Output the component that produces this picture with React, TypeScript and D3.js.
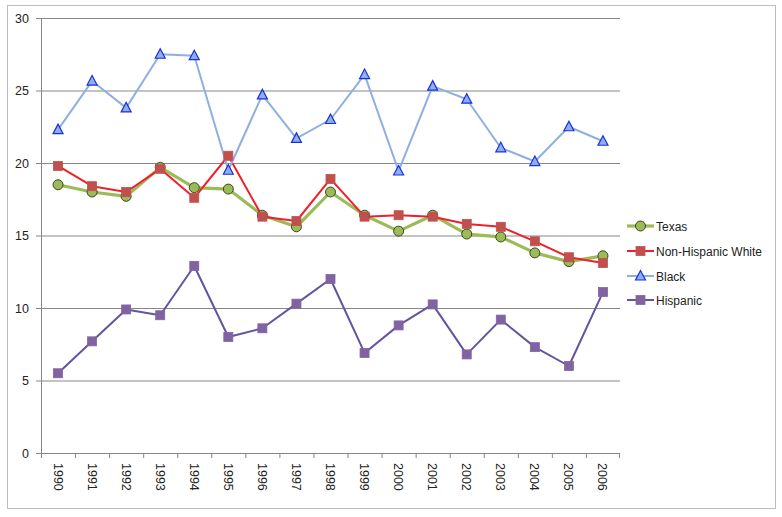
import React from "react";
import * as d3 from "d3";

const years = ["1990","1991","1992","1993","1994","1995","1996","1997","1998","1999","2000","2001","2002","2003","2004","2005","2006"];
const texas = [18.5,18.0,17.7,19.7,18.3,18.2,16.4,15.6,18.0,16.4,15.3,16.4,15.1,14.9,13.8,13.2,13.6];
const nhWhite = [19.8,18.4,18.0,19.6,17.6,20.5,16.3,16.0,18.9,16.3,16.4,16.3,15.8,15.6,14.6,13.5,13.1];
const black = [22.3,25.65,23.8,27.5,27.4,19.5,24.7,21.7,23.0,26.1,19.45,25.3,24.4,21.05,20.1,22.5,21.5];
const hispanic = [5.5,7.7,9.9,9.5,12.9,8.0,8.6,10.3,12.0,6.9,8.8,10.25,6.8,9.2,7.3,6.0,11.1];
const yTicks = [0,5,10,15,20,25,30];

const seriesNames = ["Texas","Non-Hispanic White","Black","Hispanic"];
const seriesData = [texas, nhWhite, black, hispanic];
const lineColors = ["#9BBB59","#F0202A","#8DB0E0","#6454A0"];
const lineWidths = [3.2,2,2,2];
const markerFill = ["#9BBB59","#C0504D","#8DB0E8","#8064A2"];
const markerStroke = ["#2F3A10","#C0504D","#1A2EE0","#8064A2"];
const markerType = ["circle","square","triangle","square"];

function Marker({ type, x, y, fill, stroke }: any) {
  if (type === "circle") return <circle cx={x} cy={y} r={5} fill={fill} stroke={stroke} strokeWidth={0.9} />;
  if (type === "square") return <rect x={x - 4.5} y={y - 4.5} width={9} height={9} fill={fill} stroke={stroke} strokeWidth={0.8} />;
  const p = `${x},${y - 5.5} ${x + 5},${y + 4} ${x - 5},${y + 4}`;
  return <polygon points={p} fill={fill} stroke={stroke} strokeWidth={1.2} />;
}

export default function App() {
  const W = 782, H = 517;
  const left = 41, right = 620, top = 18, bottom = 453;
  const x = d3.scaleBand().domain(years).range([left, right]);
  const y = d3.scaleLinear().domain([0, 30]).range([bottom, top]);
  const cx = (i: number) => (x(years[i]) as number) + x.bandwidth() / 2;
  const line = d3.line<number>().x((_, i) => cx(i)).y((d) => y(d));
  const font = "'Liberation Sans', Arial, sans-serif";
  const legendY = [226, 251, 276, 300];

  return (
    <svg width={W} height={H} style={{ position: "absolute", left: 0, top: 0 }} fontFamily={font}>
      <rect x={0} y={0} width={W} height={H} fill="#fff" />
      <rect x={7.5} y={5.5} width={768} height={503} fill="#fff" stroke="#BDBDBD" strokeWidth={1} />
      {yTicks.map((t) => (
        <g key={t}>
          {t > 0 && <line x1={left} x2={right} y1={y(t) + 0.5} y2={y(t) + 0.5} stroke="#878787" strokeWidth={1} />}
          <line x1={left - 5} x2={left} y1={y(t) + 0.5} y2={y(t) + 0.5} stroke="#878787" strokeWidth={1} />
          <text x={29} y={y(t) + 4.5} textAnchor="end" fontSize={12.5} fill="#222">{t}</text>
        </g>
      ))}
      <line x1={left + 0.5} x2={left + 0.5} y1={top} y2={bottom} stroke="#878787" />
      <line x1={left} x2={right} y1={bottom + 0.5} y2={bottom + 0.5} stroke="#878787" />
      {years.map((yr, i) => (
        <line key={"t" + yr} x1={(x(yr) as number) + 0.5} x2={(x(yr) as number) + 0.5} y1={bottom} y2={bottom + 5} stroke="#878787" />
      ))}
      <line x1={right - 0.5} x2={right - 0.5} y1={bottom} y2={bottom + 5} stroke="#878787" />
      {years.map((yr, i) => (
        <text key={"l" + yr} transform={`translate(${cx(i) - 4.5},${bottom + 10}) rotate(90)`} fontSize={12.5} fill="#222">{yr}</text>
      ))}
      {seriesData.map((d, s) => (
        <path key={"p" + s} d={line(d) as string} fill="none" stroke={lineColors[s]} strokeWidth={lineWidths[s]} strokeLinejoin="round" />
      )).reverse().reverse()}
      {seriesData.map((d, s) => (
        <g key={"m" + s}>
          {d.map((v, i) => (
            <Marker key={i} type={markerType[s]} x={cx(i)} y={y(v)} fill={markerFill[s]} stroke={markerStroke[s]} />
          ))}
        </g>
      ))}
      {seriesNames.map((n, s) => (
        <g key={"lg" + n}>
          <line x1={627} x2={654} y1={legendY[s]} y2={legendY[s]} stroke={lineColors[s]} strokeWidth={lineWidths[s]} />
          <Marker type={markerType[s]} x={640.5} y={legendY[s]} fill={markerFill[s]} stroke={markerStroke[s]} />
          <text x={656} y={legendY[s] + 4.5} fontSize={12} fill="#222">{n}</text>
        </g>
      ))}
    </svg>
  );
}
